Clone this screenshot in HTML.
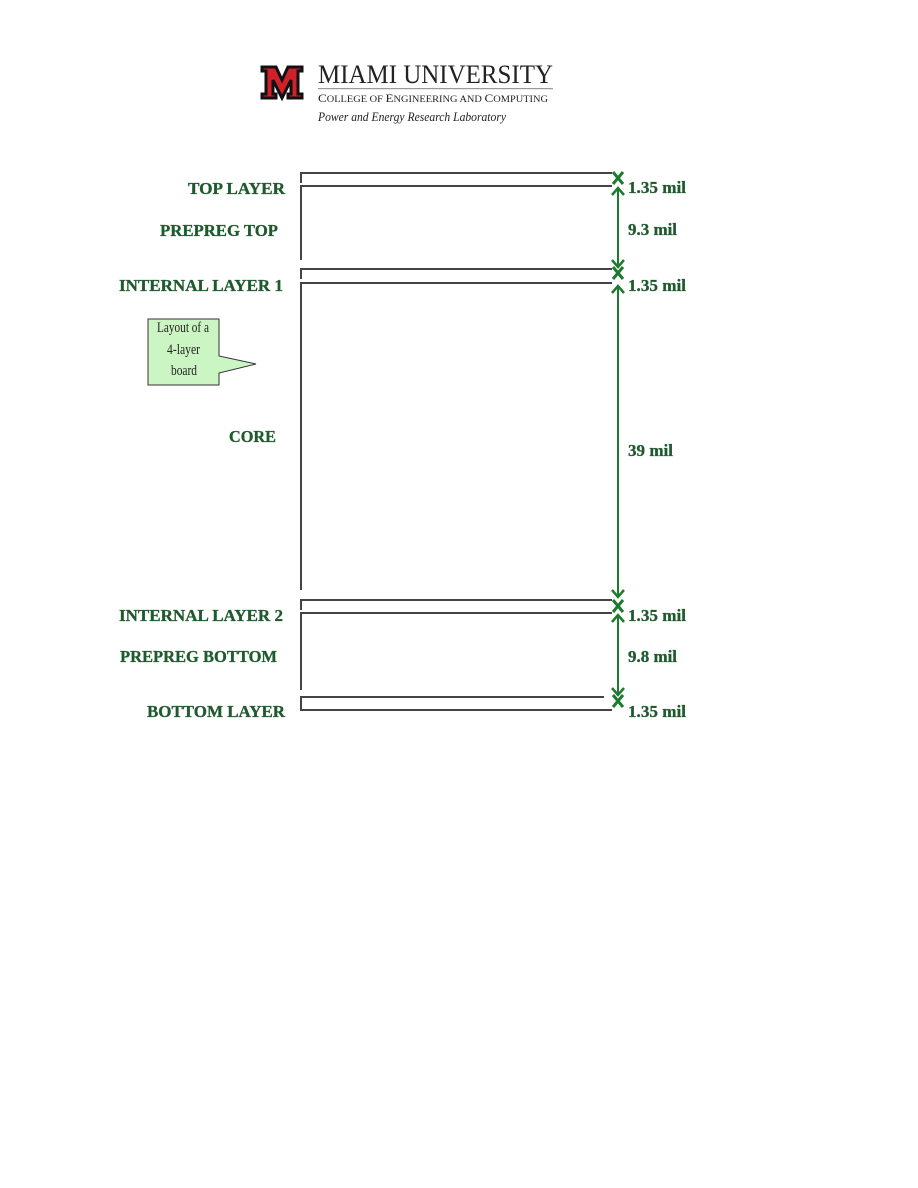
<!DOCTYPE html>
<html><head><meta charset="utf-8"><style>
html,body{margin:0;padding:0;background:#fff;}
svg{display:block}
.l{font-family:"Liberation Serif",serif;font-weight:bold;font-size:16.5px;fill:#1f5a2e;stroke:#1f5a2e;stroke-width:0.3;}
</style></head><body>
<svg width="918" height="1188" viewBox="0 0 918 1188" xmlns="http://www.w3.org/2000/svg">
<!-- logo -->
<g>
<polygon points="262,67 276,67 282,80 288,67 302,67 302,71 298,71 298,94 302,94 302,98 288,98 288,94 291,94 291,80 282,98 273,80 273,94 276,94 276,98 262,98 262,94 266,94 266,71 262,71" fill="#d0202a" stroke="#111" stroke-width="3" stroke-linejoin="miter"/>
<text x="318" y="83" font-family="Liberation Serif,serif" font-size="26" fill="#222" textLength="235" lengthAdjust="spacingAndGlyphs">MIAMI UNIVERSITY</text>
<rect x="318" y="88" width="235" height="1.2" fill="#999"/>
<text x="318" y="102" font-family="Liberation Serif,serif" font-size="12" fill="#222" textLength="230" lengthAdjust="spacingAndGlyphs">C<tspan font-size="9.5">OLLEGE OF </tspan>E<tspan font-size="9.5">NGINEERING AND </tspan>C<tspan font-size="9.5">OMPUTING</tspan></text>
<text x="318" y="121" font-family="Liberation Serif,serif" font-style="italic" font-size="12.5" fill="#222" textLength="188" lengthAdjust="spacingAndGlyphs">Power and Energy Research Laboratory</text>
</g>
<!-- layers -->
<g stroke="#444" stroke-width="2" fill="none">
<path d="M301,183 V173 H612"/>
<path d="M301,260 V186 H612"/>
<path d="M301,279 V269 H612"/>
<path d="M301,590 V283 H612"/>
<path d="M301,610 V600 H612"/>
<path d="M301,690 V613 H612"/>
<path d="M301,707 V697 H604"/>
<path d="M301,700 V710 H612"/>
</g>
<!-- dimension arrows -->
<g stroke="#1e7a2e" stroke-width="2" fill="none">
<line x1="618" y1="188" x2="618" y2="267"/>
<line x1="618" y1="286" x2="618" y2="597"/>
<line x1="618" y1="615" x2="618" y2="695"/>
<g stroke-width="2.5">
<path d="M612,195 L618,188 L624,195"/><path d="M612,260 L618,267 L624,260"/>
<path d="M612,293 L618,286 L624,293"/><path d="M612,590 L618,597 L624,590"/>
<path d="M612,622 L618,615 L624,622"/><path d="M612,688 L618,695 L624,688"/>
</g>
<g stroke-width="3">
<path d="M613,172 L623,184 M623,172 L613,184"/>
<path d="M613,267 L623,279 M623,267 L613,279"/>
<path d="M613,600 L623,612 M623,600 L613,612"/>
<path d="M613,695 L623,707 M623,695 L613,707"/>
</g>
</g>
<!-- left labels -->
<g class="l" lengthAdjust="spacingAndGlyphs">
<text x="188" y="194" textLength="97" lengthAdjust="spacingAndGlyphs">TOP LAYER</text>
<text x="160" y="236" textLength="118" lengthAdjust="spacingAndGlyphs">PREPREG TOP</text>
<text x="119" y="291" textLength="164" lengthAdjust="spacingAndGlyphs">INTERNAL LAYER 1</text>
<text x="229" y="442" textLength="47" lengthAdjust="spacingAndGlyphs">CORE</text>
<text x="119" y="621" textLength="164" lengthAdjust="spacingAndGlyphs">INTERNAL LAYER 2</text>
<text x="120" y="662" textLength="157" lengthAdjust="spacingAndGlyphs">PREPREG BOTTOM</text>
<text x="147" y="717" textLength="138" lengthAdjust="spacingAndGlyphs">BOTTOM LAYER</text>
</g>
<g class="l">
<text x="628" y="193" textLength="58" lengthAdjust="spacingAndGlyphs">1.35 mil</text>
<text x="628" y="235" textLength="49" lengthAdjust="spacingAndGlyphs">9.3 mil</text>
<text x="628" y="291" textLength="58" lengthAdjust="spacingAndGlyphs">1.35 mil</text>
<text x="628" y="456" textLength="45" lengthAdjust="spacingAndGlyphs">39 mil</text>
<text x="628" y="621" textLength="58" lengthAdjust="spacingAndGlyphs">1.35 mil</text>
<text x="628" y="662" textLength="49" lengthAdjust="spacingAndGlyphs">9.8 mil</text>
<text x="628" y="717" textLength="58" lengthAdjust="spacingAndGlyphs">1.35 mil</text>
</g>
<!-- callout -->
<path d="M148,319 H219 V356 L256,364 L219,373 V385 H148 Z" fill="#ccf5c4" stroke="#333" stroke-width="1"/>
<g font-family="Liberation Serif,serif" font-size="15" fill="#222">
<text x="157" y="332" textLength="52" lengthAdjust="spacingAndGlyphs">Layout of a</text>
<text x="167" y="354" textLength="33" lengthAdjust="spacingAndGlyphs">4-layer</text>
<text x="171" y="375" textLength="26" lengthAdjust="spacingAndGlyphs">board</text>
</g>
</svg>
</body></html>
